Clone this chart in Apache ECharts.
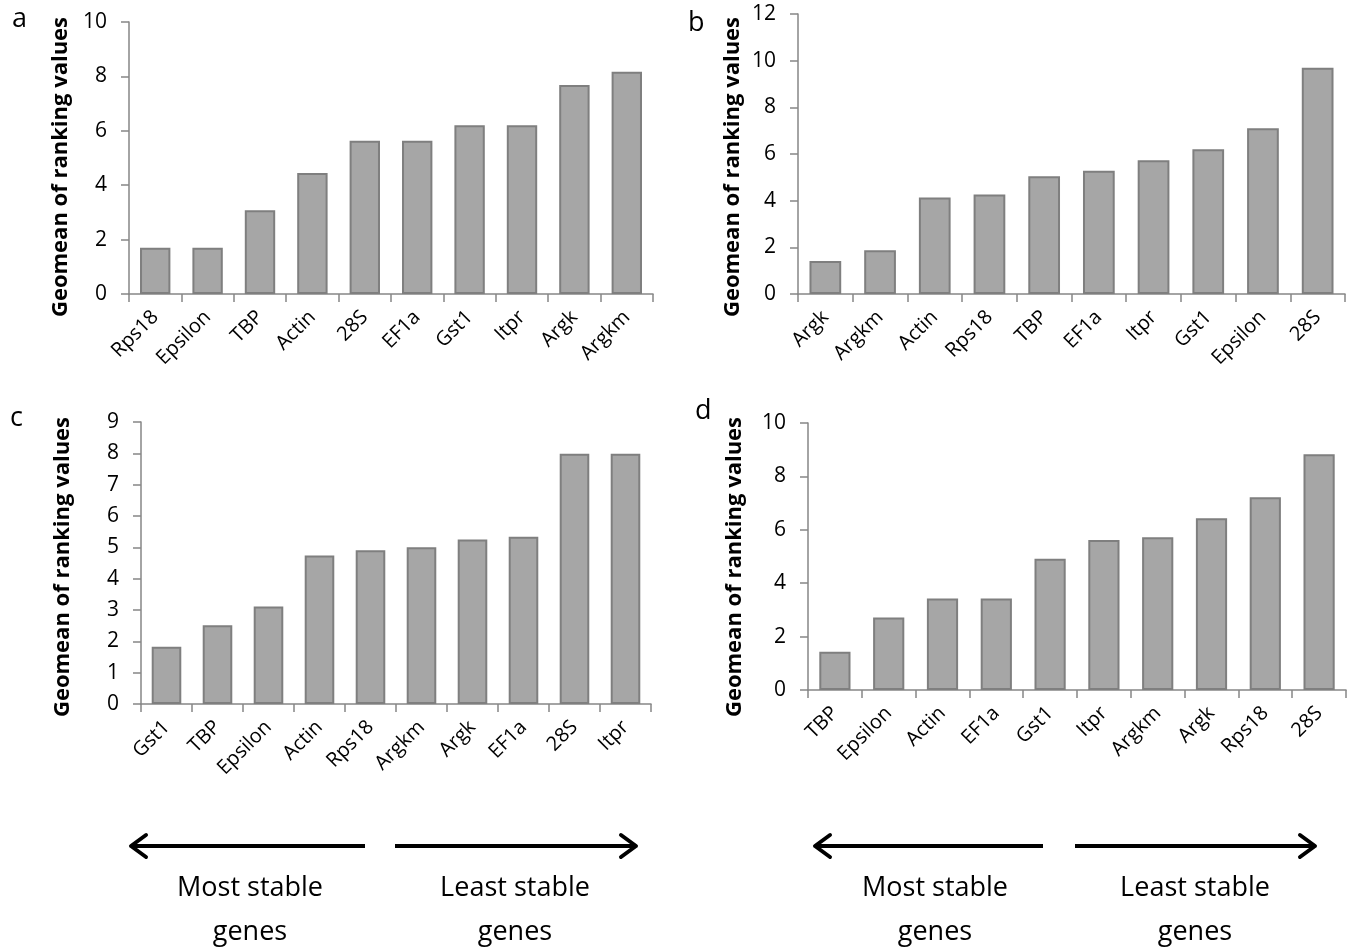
<!DOCTYPE html>
<html><head><meta charset="utf-8">
<script src="https://cdn.jsdelivr.net/npm/echarts@6/dist/echarts.min.js"></script>
<style>html,body{margin:0;padding:0;background:#fff}#c{width:1349px;height:948px}</style>
</head><body><div id="c"></div>
<script>
const catsA = ['Rps18','Epsilon','TBP','Actin','28S','EF1a','Gst1','Itpr','Argk','Argkm'];
const valsA = [1.7,1.7,3.08,4.45,5.63,5.63,6.2,6.2,7.68,8.17];
const catsB = ['Argk','Argkm','Actin','Rps18','TBP','EF1a','Itpr','Gst1','Epsilon','28S'];
const valsB = [1.41,1.87,4.14,4.26,5.05,5.28,5.73,6.2,7.1,9.7];
const catsC = ['Gst1','TBP','Epsilon','Actin','Rps18','Argkm','Argk','EF1a','28S','Itpr'];
const valsC = [1.83,2.51,3.11,4.74,4.91,5.0,5.25,5.34,7.99,7.99];
const catsD = ['TBP','Epsilon','Actin','EF1a','Gst1','Itpr','Argkm','Argk','Rps18','28S'];
const valsD = [1.43,2.72,3.43,3.43,4.92,5.62,5.72,6.43,7.22,8.83];
const yMax = [10,12,9,10];
const yStep = [2,2,1,2];
const panelLetters = ['a','b','c','d'];
const yTitle = 'Geomean of ranking values';
const arrowTextLeft = ['Most stable','genes'];
const arrowTextRight = ['Least stable','genes'];

const FONT = '"Open Sans", "Liberation Sans", sans-serif';
const grids = [
  {left:129, top:22, width:524, height:272},
  {left:798, top:14, width:547, height:280},
  {left:141, top:422, width:510, height:282},
  {left:808, top:423, width:538, height:267}
];
const cats = [catsA,catsB,catsC,catsD];
const vals = [valsA,valsB,valsC,valsD];
const axisColor = '#868686';

const xAxis = cats.map((c,i)=>({
  type:'category', gridIndex:i, data:c,
  axisLine:{lineStyle:{color:axisColor,width:1.5}},
  axisTick:{show:true,length:8,lineStyle:{color:axisColor,width:1.5}},
  axisLabel:{rotate:45,color:'#000',fontFamily:FONT,fontSize:20,margin:20}
}));
const yAxis = yMax.map((m,i)=>({
  type:'value', gridIndex:i, min:0, max:m, interval:yStep[i],
  axisLine:{show:true,lineStyle:{color:axisColor,width:1.5}},
  axisTick:{show:true,length:8,lineStyle:{color:axisColor,width:1.5}},
  splitLine:{show:false},
  axisLabel:{color:'#000',fontFamily:FONT,fontSize:21,margin:22}
}));
const series = vals.map((v,i)=>({
  type:'bar', xAxisIndex:i, yAxisIndex:i, data:v,
  barCategoryGap:'42%',
  itemStyle:{color:'#a6a6a6',borderColor:'#7f7f7f',borderWidth:2}
}));

const graphic = [];
const letterPos = [[12,33],[688,37],[10,432],[695,425]];
panelLetters.forEach((l,i)=>{
  graphic.push({type:'text',x:letterPos[i][0],y:letterPos[i][1],
    style:{text:l,fontFamily:FONT,fontSize:27,fill:'#000',textVerticalAlign:'bottom'}});
});
const titlePos = [[61,167],[733,167],[63,567],[735,567]];
titlePos.forEach(p=>{
  graphic.push({type:'text',x:p[0],y:p[1],rotation:Math.PI/2,
    style:{text:yTitle,fontFamily:FONT,fontWeight:'bold',fontSize:22,fill:'#000',
      textAlign:'center',textVerticalAlign:'middle'}});
});
function arrow(x1,x2,y){
  const dir = x2>x1?1:-1;
  return [
    {type:'line',shape:{x1:x1,y1:y,x2:x2-dir*2,y2:y},style:{stroke:'#000',lineWidth:4}},
    {type:'polyline',shape:{points:[[x2-dir*15,y-11],[x2,y],[x2-dir*15,y+11]]},
     style:{stroke:'#000',lineWidth:4,fill:null,lineJoin:'round',lineCap:'round'}}
  ];
}
[[365,131,846],[395,636,846],[1043,815,846],[1075,1315,846]].forEach(a=>graphic.push(...arrow(a[0],a[1],a[2])));
[[250,arrowTextLeft],[515,arrowTextRight],[935,arrowTextLeft],[1195,arrowTextRight]].forEach(t=>{
  graphic.push({type:'text',x:t[0],y:888,style:{text:t[1][0],fontFamily:FONT,fontSize:27,fill:'#000',textAlign:'center',textVerticalAlign:'middle'}});
  graphic.push({type:'text',x:t[0],y:932,style:{text:t[1][1],fontFamily:FONT,fontSize:27,fill:'#000',textAlign:'center',textVerticalAlign:'middle'}});
});

const chart = echarts.init(document.getElementById('c'),null,{renderer:'canvas'});
chart.setOption({
  animation:false,
  backgroundColor:'#fff',
  grid:grids.map(g=>Object.assign({containLabel:false},g)),
  xAxis, yAxis, series, graphic
});
</script></body></html>
